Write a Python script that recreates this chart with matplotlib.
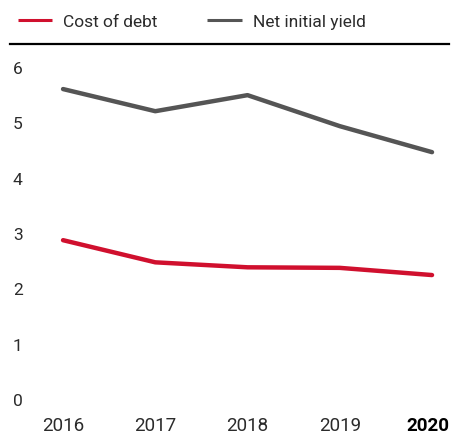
import matplotlib
matplotlib.use("Agg")
import matplotlib.pyplot as plt
from matplotlib.transforms import ScaledTranslation, blended_transform_factory

years = [2016, 2017, 2018, 2019, 2020]
cost_of_debt = [2.89, 2.49, 2.40, 2.39, 2.26]
net_initial_yield = [5.62, 5.22, 5.51, 4.95, 4.48]
y_ticks = [0, 1, 2, 3, 4, 5, 6]
x_labels = ["2016", "2017", "2018", "2019", "2020"]

RED = "#d0102e"
GREY = "#555555"
TEXT = "#2b2b2b"

plt.rcParams["font.family"] = ["Roboto", "DejaVu Sans"]

W, H = 451, 436
fig = plt.figure(figsize=(W / 100, H / 100), dpi=100)

# axes in pixel terms: left 10, right 449, top 44, bottom 414
left, right, top, bottom = 10, 449, 44, 414
ax = fig.add_axes([left / W, 1 - bottom / H, (right - left) / W, (bottom - top) / H])

ax.plot(years, cost_of_debt, color=RED, lw=3.2, solid_capstyle="round",
        solid_joinstyle="round", label="Cost of debt")
ax.plot(years, net_initial_yield, color=GREY, lw=3.2, solid_capstyle="round",
        solid_joinstyle="round", label="Net initial yield")

ax.set_xlim(2015.425, 2020.184)
ax.set_ylim(-0.25, 6.434)

for s in ["left", "right", "bottom"]:
    ax.spines[s].set_visible(False)
ax.spines["top"].set_color("black")
ax.spines["top"].set_linewidth(1.6)

ax.set_yticks(y_ticks)
ax.set_yticklabels([str(v) for v in y_ticks])
ax.tick_params(axis="y", length=0, pad=-2, labelsize=12.5, labelcolor=TEXT)
for t in ax.get_yticklabels():
    t.set_horizontalalignment("left")

# regular year labels on the ticks; the current year is set in bold and
# nudged left so it stays inside the figure
ax.set_xticks(years)
ax.set_xticklabels(x_labels[:-1] + [""])
ax.tick_params(axis="x", length=0, pad=2.5, labelsize=13.5, labelcolor=TEXT)
trans = blended_transform_factory(ax.transData, ax.transAxes) + \
    ScaledTranslation(-4 / 100, 0, fig.dpi_scale_trans)
ax.text(years[-1], 0, x_labels[-1], transform=trans, ha="center", va="top",
        fontsize=13.5, fontweight="bold", color="black",
        bbox=None).set_y(-2.5 / 72 * 100 / (bottom - top))

leg = fig.legend(handles=ax.get_lines(), loc="center left",
                 bbox_to_anchor=(2 / W, 1 - 22 / H), ncol=2, frameon=False,
                 fontsize=12.5, handlelength=2.0, handletextpad=0.6,
                 columnspacing=2.9, labelcolor=TEXT)
for h in leg.legend_handles:
    h.set_linewidth(2.2)
    h.set_solid_capstyle("butt")

fig.savefig("out.png", dpi=100)
